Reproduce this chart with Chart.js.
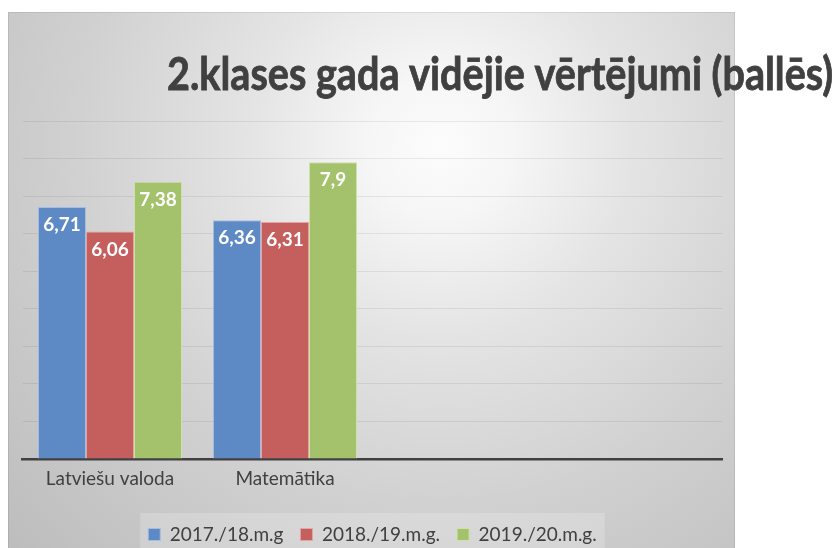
<!DOCTYPE html>
<html>
<head>
<meta charset="utf-8">
<script src="https://cdn.jsdelivr.net/npm/chart.js@4"></script>
<style>
  html, body { margin: 0; padding: 0; background: #ffffff; }
  #wrap { width: 837px; height: 548px; }
</style>
</head>
<body>
<div id="wrap"><canvas id="gradesChart"></canvas></div>
<script>
// --- Data ---
const chartTitle = '2.klases gada vidējie vērtējumi (ballēs)';
const subjects = ['Latviešu valoda', 'Matemātika', '', ''];
const seriesNames = ['2017./18.m.g', '2018./19.m.g.', '2019./20.m.g.'];
const grades2017 = [6.71, 6.36, null, null];
const grades2018 = [6.06, 6.31, null, null];
const grades2019 = [7.38, 7.9, null, null];
const yMax = 9;

const textColor = '#404040';
const fontFamily = 'Lato, "Open Sans", sans-serif';

// --- Plugins ---
const backdrop = {
    id: 'backdrop',
    beforeDraw(chart) {
        const c = chart.ctx;
        c.save();
        const g = c.createRadialGradient(440, 145, 0, 440, 145, 600);
        g.addColorStop(0, '#fcfcfc');
        g.addColorStop(0.12, '#f6f6f6');
        g.addColorStop(0.32, '#e4e4e4');
        g.addColorStop(0.6, '#d1d1d1');
        g.addColorStop(0.75, '#c9c9c9');
        g.addColorStop(1, '#bcbcbc');
        c.fillStyle = g;
        c.fillRect(8, 12, 727, 536);
        c.strokeStyle = 'rgba(0,0,0,0.08)';
        c.lineWidth = 1;
        c.strokeRect(8.5, 12.5, 726, 540);

        // lighter panel behind the legend
        const boxes = chart.legend && chart.legend.legendHitBoxes;
        if (boxes && boxes.length) {
            const first = boxes[0];
            const last = boxes[boxes.length - 1];
            c.fillStyle = 'rgba(255,255,255,0.2)';
            c.fillRect(first.left - 8, first.top - 12, last.left + last.width - first.left + 16, 60);
        }
        c.restore();
    },
    afterDraw(chart) {
        const c = chart.ctx;
        c.save();
        c.fillStyle = textColor;
        c.strokeStyle = textColor;
        c.lineWidth = 0.7;
        c.textAlign = 'left';
        c.textBaseline = 'alphabetic';
        c.font = 'bold 40px ' + fontFamily;
        const size = 40 * 667 / c.measureText(chartTitle).width;
        c.font = 'bold ' + size.toFixed(1) + 'px ' + fontFamily;
        // Calibri-like taller letters
        c.translate(167, 89.5);
        c.scale(1, 1.15);
        c.fillText(chartTitle, 0, 0);
        c.strokeText(chartTitle, 0, 0);
        c.restore();
    }
};

const valueLabels = {
    id: 'valueLabels',
    afterDatasetsDraw(chart) {
        const c = chart.ctx;
        c.save();
        c.font = 'bold 19px ' + fontFamily;
        c.fillStyle = '#ffffff';
        c.textAlign = 'center';
        c.textBaseline = 'middle';
        chart.data.datasets.forEach((ds, i) => {
            chart.getDatasetMeta(i).data.forEach((bar, j) => {
                const v = ds.data[j];
                if (v === null || v === undefined) return;
                c.fillText(String(v).replace('.', ','), bar.x, bar.y + 18);
            });
        });
        c.restore();
    }
};

// --- Chart ---
const ctx = document.getElementById('gradesChart').getContext('2d');
const gradesChart = new Chart(ctx, {
    type: 'bar',
    data: {
        labels: subjects,
        datasets: [
            { label: seriesNames[0], data: grades2017, backgroundColor: '#5d8ac4', borderColor: '#a3bde0' },
            { label: seriesNames[1], data: grades2018, backgroundColor: '#c55f5d', borderColor: '#e3a5a3' },
            { label: seriesNames[2], data: grades2019, backgroundColor: '#a3c26b', borderColor: '#cfe0ae' }
        ]
    },
    options: {
        responsive: true,
        maintainAspectRatio: false,
        animation: false,
        datasets: {
            bar: { categoryPercentage: 0.823, barPercentage: 1.0, borderWidth: 1 }
        },
        layout: { padding: { top: 121, left: 22.5, right: 114.5, bottom: -6 } },
        scales: {
            x: {
                grid: { display: false, drawTicks: false },
                border: { display: true, color: '#404040', width: 2.5 },
                ticks: { color: textColor, padding: 8, font: { family: fontFamily, size: 19 } },
                afterFit(scale) { scale.height = 49; }
            },
            y: {
                min: 0,
                max: yMax,
                ticks: { display: false, stepSize: 1 },
                grid: { color: 'rgba(0,0,0,0.07)', lineWidth: 1, drawTicks: false },
                border: { display: false }
            }
        },
        plugins: {
            legend: {
                position: 'bottom',
                labels: {
                    boxWidth: 12,
                    boxHeight: 12,
                    padding: 17,
                    color: textColor,
                    font: { family: fontFamily, size: 19 }
                }
            },
            tooltip: { enabled: false }
        }
    },
    plugins: [backdrop, valueLabels]
});
</script>
</body>
</html>
